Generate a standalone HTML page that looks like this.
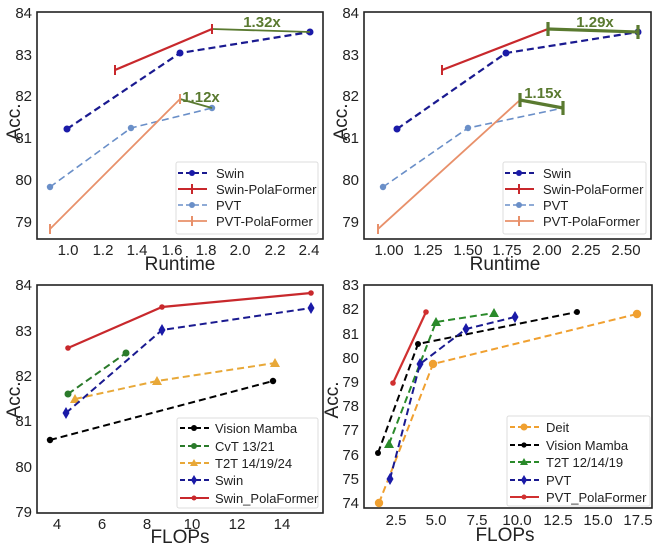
<!DOCTYPE html>
<html><head><meta charset="utf-8"><style>
html,body{margin:0;padding:0;background:#fff;}
svg{display:block;font-family:"Liberation Sans","DejaVu Sans",sans-serif;}
.t{font-size:15px;fill:#222;}
.lab{font-size:19px;fill:#222;}
.lg{font-size:13px;fill:#222;}
.ann{font-size:15px;font-weight:bold;fill:#5a7a30;}
.box{fill:none;stroke:#222;stroke-width:1.6;}
.leg{fill:#fff;stroke:#ddd;stroke-width:1;}
</style></head><body>
<svg width="660" height="546" viewBox="0 0 660 546">
<!-- ========== Panel 1 ========== -->
<rect class="box" x="37" y="12" width="286" height="227"/>
<g class="t" text-anchor="end">
<text x="32" y="18">84</text><text x="32" y="60">83</text><text x="32" y="101">82</text>
<text x="32" y="143">81</text><text x="32" y="185">80</text><text x="32" y="227">79</text>
</g>
<g class="t" text-anchor="middle">
<text x="68" y="255">1.0</text><text x="103" y="255">1.2</text><text x="137" y="255">1.4</text>
<text x="172" y="255">1.6</text><text x="206" y="255">1.8</text><text x="240" y="255">2.0</text>
<text x="275" y="255">2.2</text><text x="309" y="255">2.4</text>
</g>
<text class="lab" x="180" y="270" text-anchor="middle">Runtime</text>
<text class="lab" transform="translate(20,122) rotate(-90)" text-anchor="middle">Acc.</text>
<polyline points="67,129 180,53 310,32" fill="none" stroke="#1a1a90" stroke-width="2.2" stroke-dasharray="7,4"/>
<g fill="#1a1aa8"><circle cx="67" cy="129" r="3.5"/><circle cx="180" cy="53" r="3.5"/><circle cx="310" cy="32" r="3.5"/></g>
<polyline points="50,187 131,128 212,108" fill="none" stroke="#6a8fc8" stroke-width="1.6" stroke-dasharray="7,4"/>
<g fill="#6a8fc8"><circle cx="50" cy="187" r="3.2"/><circle cx="131" cy="128" r="3.2"/><circle cx="212" cy="108" r="3.2"/></g>
<polyline points="50,229 180,99" fill="none" stroke="#e8906a" stroke-width="1.8"/>
<polyline points="115,70 212,29" fill="none" stroke="#c8282c" stroke-width="2.2"/>
<line x1="212" y1="29" x2="310" y2="32" stroke="#5a7a30" stroke-width="1.8"/>
<line x1="180" y1="99" x2="212" y2="108" stroke="#5a7a30" stroke-width="1.8"/>
<g stroke="#c8282c" stroke-width="2"><line x1="115" y1="65" x2="115" y2="75"/><line x1="212" y1="24" x2="212" y2="34"/></g>
<g stroke="#e8906a" stroke-width="2"><line x1="50" y1="224" x2="50" y2="234"/><line x1="180" y1="94" x2="180" y2="104"/></g>
<text class="ann" x="262" y="27" text-anchor="middle">1.32x</text>
<text class="ann" x="201" y="102" text-anchor="middle">1.12x</text>
<rect class="leg" x="176" y="162" width="142" height="72" rx="2"/>
<line x1="178" y1="173" x2="207" y2="173" stroke="#1a1a90" stroke-width="2" stroke-dasharray="5,3"/><circle cx="192" cy="173" r="3" fill="#1a1aa8"/>
<line x1="178" y1="189" x2="207" y2="189" stroke="#c8282c" stroke-width="2"/><line x1="192" y1="184" x2="192" y2="194" stroke="#c8282c" stroke-width="2"/>
<line x1="178" y1="205" x2="207" y2="205" stroke="#6a8fc8" stroke-width="1.6" stroke-dasharray="5,3"/><circle cx="192" cy="205" r="3" fill="#6a8fc8"/>
<line x1="178" y1="221" x2="207" y2="221" stroke="#e8906a" stroke-width="1.8"/><line x1="192" y1="216" x2="192" y2="226" stroke="#e8906a" stroke-width="2"/>
<g class="lg"><text x="216" y="178">Swin</text><text x="216" y="194">Swin-PolaFormer</text><text x="216" y="210">PVT</text><text x="216" y="226">PVT-PolaFormer</text></g>

<!-- ========== Panel 2 ========== -->
<rect class="box" x="364" y="12" width="287" height="227"/>
<g class="t" text-anchor="end">
<text x="359" y="18">84</text><text x="359" y="60">83</text><text x="359" y="101">82</text>
<text x="359" y="143">81</text><text x="359" y="185">80</text><text x="359" y="227">79</text>
</g>
<g class="t" text-anchor="middle">
<text x="389" y="255">1.00</text><text x="428" y="255">1.25</text><text x="468" y="255">1.50</text>
<text x="507" y="255">1.75</text><text x="547" y="255">2.00</text><text x="586" y="255">2.25</text><text x="626" y="255">2.50</text>
</g>
<text class="lab" x="505" y="270" text-anchor="middle">Runtime</text>
<text class="lab" transform="translate(347,122) rotate(-90)" text-anchor="middle">Acc.</text>
<polyline points="397,129 506,53 638,32" fill="none" stroke="#1a1a90" stroke-width="2.2" stroke-dasharray="7,4"/>
<g fill="#1a1aa8"><circle cx="397" cy="129" r="3.5"/><circle cx="506" cy="53" r="3.5"/><circle cx="638" cy="32" r="3.5"/></g>
<polyline points="383,187 468,128 563,108" fill="none" stroke="#6a8fc8" stroke-width="1.6" stroke-dasharray="7,4"/>
<g fill="#6a8fc8"><circle cx="383" cy="187" r="3.2"/><circle cx="468" cy="128" r="3.2"/></g>
<polyline points="378,229 520,100" fill="none" stroke="#e8906a" stroke-width="1.8"/>
<polyline points="442,70 548,29" fill="none" stroke="#c8282c" stroke-width="2.2"/>
<g stroke="#5a7a30" stroke-width="3.2">
<line x1="548" y1="29" x2="638" y2="32"/><line x1="548" y1="22" x2="548" y2="36"/><line x1="638" y1="25" x2="638" y2="39"/>
<line x1="520" y1="100" x2="563" y2="108"/><line x1="520" y1="93" x2="520" y2="107"/><line x1="563" y1="101" x2="563" y2="115"/>
</g>
<line x1="442" y1="65" x2="442" y2="75" stroke="#c8282c" stroke-width="2"/>
<line x1="378" y1="224" x2="378" y2="234" stroke="#e8906a" stroke-width="2"/>
<text class="ann" x="595" y="27" text-anchor="middle">1.29x</text>
<text class="ann" x="543" y="98" text-anchor="middle">1.15x</text>
<rect class="leg" x="503" y="162" width="143" height="72" rx="2"/>
<line x1="505" y1="173" x2="534" y2="173" stroke="#1a1a90" stroke-width="2" stroke-dasharray="5,3"/><circle cx="519" cy="173" r="3" fill="#1a1aa8"/>
<line x1="505" y1="189" x2="534" y2="189" stroke="#c8282c" stroke-width="2"/><line x1="519" y1="184" x2="519" y2="194" stroke="#c8282c" stroke-width="2"/>
<line x1="505" y1="205" x2="534" y2="205" stroke="#6a8fc8" stroke-width="1.6" stroke-dasharray="5,3"/><circle cx="519" cy="205" r="3" fill="#6a8fc8"/>
<line x1="505" y1="221" x2="534" y2="221" stroke="#e8906a" stroke-width="1.8"/><line x1="519" y1="216" x2="519" y2="226" stroke="#e8906a" stroke-width="2"/>
<g class="lg"><text x="543" y="178">Swin</text><text x="543" y="194">Swin-PolaFormer</text><text x="543" y="210">PVT</text><text x="543" y="226">PVT-PolaFormer</text></g>

<!-- ========== Panel 3 ========== -->
<rect class="box" x="37" y="285" width="286" height="228"/>
<g class="t" text-anchor="end">
<text x="32" y="290">84</text><text x="32" y="336">83</text><text x="32" y="381">82</text>
<text x="32" y="426">81</text><text x="32" y="472">80</text><text x="32" y="517">79</text>
</g>
<g class="t" text-anchor="middle">
<text x="57" y="529">4</text><text x="102" y="529">6</text><text x="147" y="529">8</text>
<text x="192" y="529">10</text><text x="237" y="529">12</text><text x="282" y="529">14</text>
</g>
<text class="lab" x="180" y="543" text-anchor="middle">FLOPs</text>
<text class="lab" transform="translate(20,400) rotate(-90)" text-anchor="middle">Acc.</text>
<polyline points="50,440 273,381" fill="none" stroke="#000" stroke-width="2" stroke-dasharray="7,4"/>
<g fill="#000"><circle cx="50" cy="440" r="3.2"/><circle cx="273" cy="381" r="3.2"/></g>
<polyline points="75,399 157,381 275,363" fill="none" stroke="#e8a838" stroke-width="2" stroke-dasharray="7,4"/>
<g fill="#e8a838"><polygon points="75,394 80,403 70,403"/><polygon points="157,376 162,385 152,385"/><polygon points="275,358 280,367 270,367"/></g>
<polyline points="68,394 126,353" fill="none" stroke="#2a7a2a" stroke-width="2" stroke-dasharray="7,4"/>
<g fill="#2a7a2a"><circle cx="68" cy="394" r="3.5"/><circle cx="126" cy="353" r="3.5"/></g>
<polyline points="66,413 162,330 311,308" fill="none" stroke="#1a1a90" stroke-width="2" stroke-dasharray="7,4"/>
<g fill="#1a1aa8"><polygon points="66,407 69.5,413 66,419 62.5,413"/><polygon points="162,324 165.5,330 162,336 158.5,330"/><polygon points="311,302 314.5,308 311,314 307.5,308"/></g>
<polyline points="68,348 162,307 311,293" fill="none" stroke="#c8282c" stroke-width="2.2"/>
<g fill="#c8282c"><circle cx="68" cy="348" r="2.8"/><circle cx="162" cy="307" r="2.8"/><circle cx="311" cy="293" r="2.8"/></g>
<rect class="leg" x="177" y="418" width="141" height="90" rx="2"/>
<line x1="180" y1="428" x2="209" y2="428" stroke="#000" stroke-width="2" stroke-dasharray="5,3"/><circle cx="194" cy="428" r="3" fill="#000"/>
<line x1="180" y1="446" x2="209" y2="446" stroke="#2a7a2a" stroke-width="2" stroke-dasharray="5,3"/><circle cx="194" cy="446" r="3" fill="#2a7a2a"/>
<line x1="180" y1="463" x2="209" y2="463" stroke="#e8a838" stroke-width="2" stroke-dasharray="5,3"/><polygon points="194,459 198,466 190,466" fill="#e8a838"/>
<line x1="180" y1="480" x2="209" y2="480" stroke="#1a1a90" stroke-width="2" stroke-dasharray="5,3"/><polygon points="194,475 197,480 194,485 191,480" fill="#1a1aa8"/>
<line x1="180" y1="498" x2="209" y2="498" stroke="#c8282c" stroke-width="2"/><circle cx="194" cy="498" r="2.5" fill="#c8282c"/>
<g class="lg"><text x="215" y="433">Vision Mamba</text><text x="215" y="451">CvT 13/21</text><text x="215" y="468">T2T 14/19/24</text><text x="215" y="485">Swin</text><text x="215" y="503">Swin_PolaFormer</text></g>

<!-- ========== Panel 4 ========== -->
<rect class="box" x="364" y="285" width="288" height="223"/>
<g class="t" text-anchor="end">
<text x="359" y="290">83</text><text x="359" y="314">82</text><text x="359" y="339">81</text>
<text x="359" y="363">80</text><text x="359" y="387">79</text><text x="359" y="411">78</text>
<text x="359" y="435">77</text><text x="359" y="460">76</text><text x="359" y="484">75</text><text x="359" y="508">74</text>
</g>
<g class="t" text-anchor="middle">
<text x="396" y="525">2.5</text><text x="436" y="525">5.0</text><text x="477" y="525">7.5</text>
<text x="517" y="525">10.0</text><text x="558" y="525">12.5</text><text x="598" y="525">15.0</text><text x="638" y="525">17.5</text>
</g>
<text class="lab" x="505" y="541" text-anchor="middle">FLOPs</text>
<text class="lab" transform="translate(338,400) rotate(-90)" text-anchor="middle">Acc.</text>
<polyline points="379,503 433,364 637,314" fill="none" stroke="#f0a030" stroke-width="2" stroke-dasharray="7,4"/>
<g fill="#f0a030"><circle cx="379" cy="503" r="4.2"/><circle cx="433" cy="364" r="4.2"/><circle cx="637" cy="314" r="4.2"/></g>
<polyline points="378,453 418,344 577,312" fill="none" stroke="#000" stroke-width="2" stroke-dasharray="7,4"/>
<g fill="#000"><circle cx="378" cy="453" r="3"/><circle cx="418" cy="344" r="3"/><circle cx="577" cy="312" r="3"/></g>
<polyline points="389,444 436,322 494,313" fill="none" stroke="#2a8a2a" stroke-width="2" stroke-dasharray="7,4"/>
<g fill="#2a8a2a"><polygon points="389,439 394,448 384,448"/><polygon points="436,317 441,326 431,326"/><polygon points="494,308 499,317 489,317"/></g>
<polyline points="390,479 420,364 466,329 515,317" fill="none" stroke="#1a1a90" stroke-width="2" stroke-dasharray="7,4"/>
<g fill="#1a1aa8"><polygon points="390,473 393.5,479 390,485 386.5,479"/><polygon points="420,358 423.5,364 420,370 416.5,364"/><polygon points="466,323 469.5,329 466,335 462.5,329"/><polygon points="515,311 518.5,317 515,323 511.5,317"/></g>
<polyline points="393,383 426,312" fill="none" stroke="#d03030" stroke-width="2.2"/>
<g fill="#d03030"><circle cx="393" cy="383" r="2.8"/><circle cx="426" cy="312" r="2.8"/></g>
<rect class="leg" x="507" y="416" width="143" height="90" rx="2"/>
<line x1="510" y1="427" x2="539" y2="427" stroke="#f0a030" stroke-width="2" stroke-dasharray="5,3"/><circle cx="524" cy="427" r="3.5" fill="#f0a030"/>
<line x1="510" y1="445" x2="539" y2="445" stroke="#000" stroke-width="2" stroke-dasharray="5,3"/><circle cx="524" cy="445" r="2.6" fill="#000"/>
<line x1="510" y1="462" x2="539" y2="462" stroke="#2a8a2a" stroke-width="2" stroke-dasharray="5,3"/><polygon points="524,458 528,465 520,465" fill="#2a8a2a"/>
<line x1="510" y1="480" x2="539" y2="480" stroke="#1a1a90" stroke-width="2" stroke-dasharray="5,3"/><polygon points="524,475 527,480 524,485 521,480" fill="#1a1aa8"/>
<line x1="510" y1="497" x2="539" y2="497" stroke="#d03030" stroke-width="2"/><circle cx="524" cy="497" r="2.5" fill="#d03030"/>
<g class="lg"><text x="546" y="432">Deit</text><text x="546" y="450">Vision Mamba</text><text x="546" y="467">T2T 12/14/19</text><text x="546" y="485">PVT</text><text x="546" y="502">PVT_PolaFormer</text></g>
</svg>
</body></html>
